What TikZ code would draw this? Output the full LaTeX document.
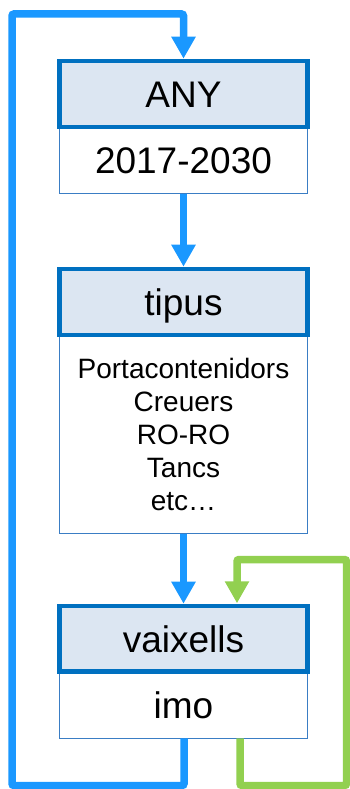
\documentclass[tikz,border=0pt]{standalone}
\usepackage{fontspec}
\setmainfont{Liberation Sans}
\usetikzlibrary{arrows.meta}
\definecolor{loopblue}{HTML}{1A98FF}
\definecolor{hdrborder}{HTML}{0070C0}
\definecolor{hdrfill}{HTML}{DCE6F2}
\definecolor{bodyborder}{HTML}{3A7DC4}
\definecolor{loopgreen}{HTML}{92D050}
\tikzset{
  hdr/.style={draw=hdrborder, fill=hdrfill, line width=4.6pt, minimum width=248pt,
    minimum height=66pt, inner sep=0pt, font=\fontsize{37}{44}\selectfont,
    text height=26.5pt, text depth=0pt},
  bodybox/.style={draw=bodyborder, fill=white, line width=1pt, minimum width=248pt,
    inner sep=0pt, align=center},
  bigtxt/.style={font=\fontsize{37}{44}\selectfont, text height=26.5pt, text depth=0pt},
  listtxt/.style={font=\fontsize{28}{33}\selectfont},
  bluearrow/.style={draw=loopblue, line width=7.5pt, -{Triangle[width=23pt,length=22pt]}},
  greenarrow/.style={draw=loopgreen, line width=7.5pt, -{Triangle[width=23pt,length=22pt]}},
}
\begin{document}
\begin{tikzpicture}[x=1pt,y=-1pt]
\useasboundingbox (0,0) rectangle (350,789);
% bodies
\node[bodybox, bigtxt, minimum height=66pt] (anyb) at (183.5,160) {2017-2030};
\node[bodybox, listtxt, minimum height=198pt] (tipb) at (183.5,434)
  {Portacontenidors\\Creuers\\RO-RO\\Tancs\\etc…};
\node[bodybox, bigtxt, minimum height=66.5pt] (vaib) at (183.5,704.75) {imo};
% headers
\node[hdr] (anyh) at (183.5,94) {ANY};
\node[hdr] (tiph) at (183.5,302) {tipus};
\node[hdr, minimum height=65.5pt] (vaih) at (183.5,638.75) {vaixells};
% straight arrows
\draw[bluearrow] (anyb.south) -- (tiph.north);
\draw[bluearrow] (tipb.south) -- (vaih.north);
% blue loop
\coordinate (b0) at (184,738.3);
\coordinate (b1) at (184,785.5);
\coordinate (b2) at (12,785.5);
\coordinate (b3) at (12,14);
\coordinate (b4) at (183.5,14);
\draw[bluearrow, rounded corners=2pt] (b0) -- (b1) -- (b2) -- (b3) -- (b4) -- (anyh.north);
% green loop
\coordinate (g0) at (240,738.3);
\coordinate (g1) at (240,785.5);
\coordinate (g2) at (346.5,785.5);
\coordinate (g3) at (346.5,559.5);
\coordinate (g4) at (237,559.5);
\coordinate (g5) at (237,603.3);
\draw[greenarrow, rounded corners=2pt] (g0) -- (g1) -- (g2) -- (g3) -- (g4) -- (g5);
\end{tikzpicture}
\end{document}
